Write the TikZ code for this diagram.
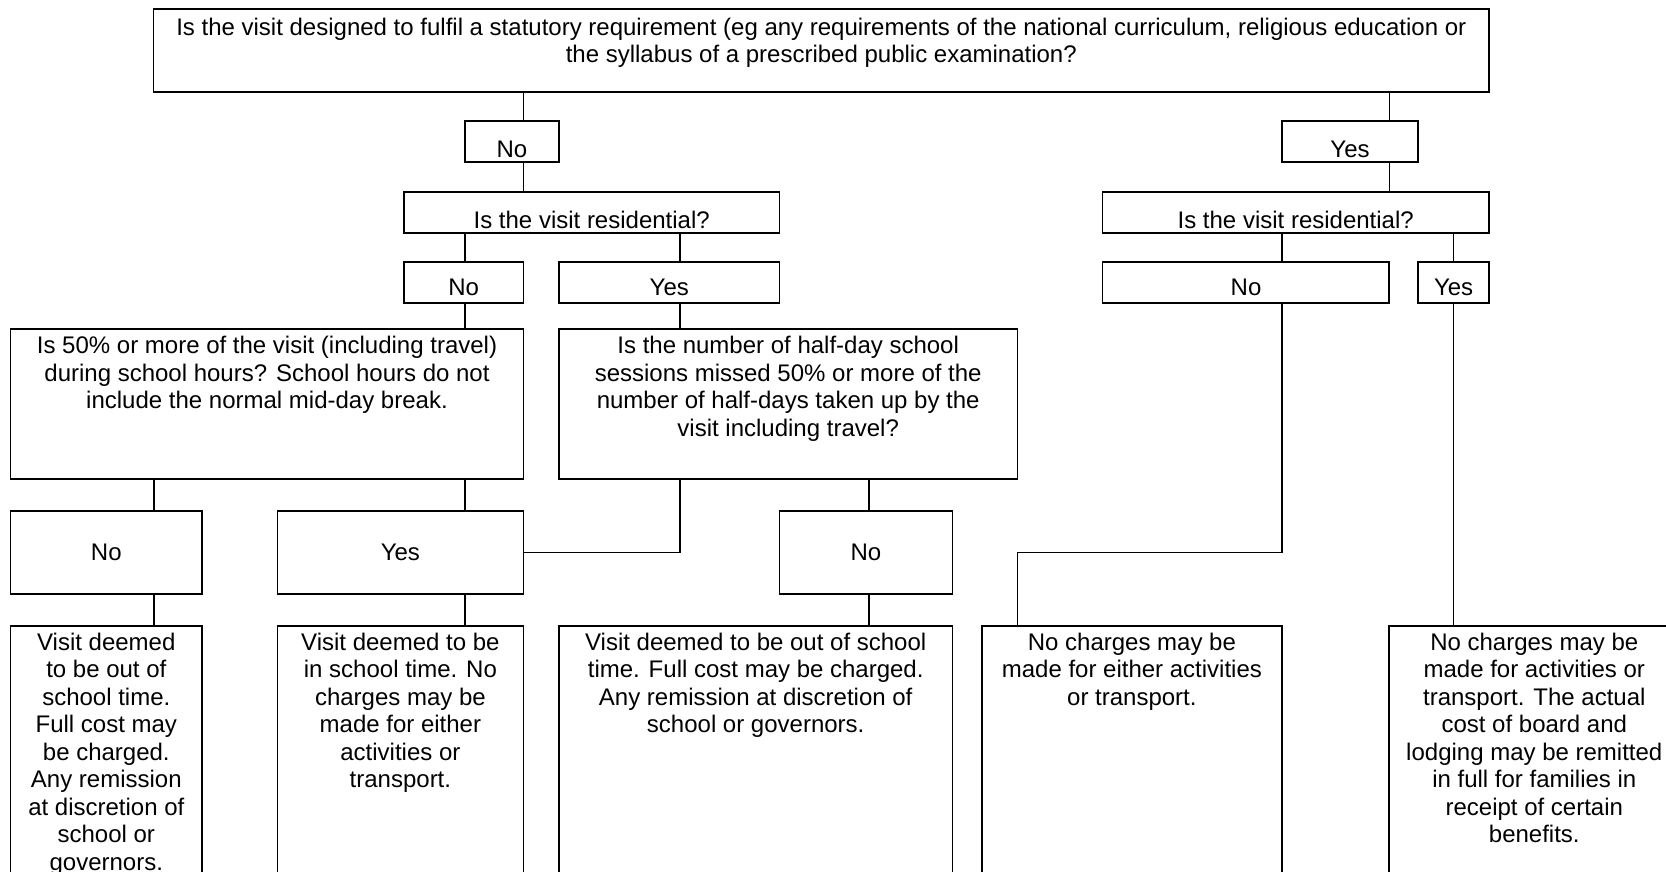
\documentclass[tikz,border=0pt]{standalone}
\usepackage{fontspec}
\setmainfont{Liberation Sans}
\usetikzlibrary{fit}
\begin{document}
\begin{tikzpicture}[x=0.5pt,y=-0.5pt]
		\tikzset{box/.style = {draw, line width=0.85pt, inner sep=0pt},
			txt/.style = {anchor=north, inner sep=0pt, align=center, font=\fontsize{12}{13.75}\selectfont},
			link/.style = {line width=0.65pt}}

		\useasboundingbox (0,0) rectangle (1666,872);
		\clip (0,0) rectangle (1666,872);

		%boxes
		\node[box, fit={(153.6,9) (1489,91.7)}] (Stat) {};
		\node[box, fit={(465,120.7) (559,162)}] (No_1) {};
		\node[box, fit={(1282,120.7) (1418,162)}] (Yes_1) {};
		\node[box, fit={(403.8,192) (779.5,232.7)}] (Res_1) {};
		\node[box, fit={(1102.4,192) (1489,232.7)}] (Res_2) {};
		\node[box, fit={(403.8,261.7) (523.4,302.7)}] (No_2) {};
		\node[box, fit={(559,261.7) (779.5,302.7)}] (Yes_2) {};
		\node[box, fit={(1102.4,261.7) (1389.3,302.7)}] (No_3) {};
		\node[box, fit={(1418,261.7) (1489,302.7)}] (Yes_3) {};
		\node[box, fit={(10.6,328.7) (523.4,479)}] (Q_1) {};
		\node[box, fit={(559,328.7) (1017.4,479)}] (Q_2) {};
		\node[box, fit={(10.6,510.7) (201.9,594)}] (No_4) {};
		\node[box, fit={(277.4,510.7) (523.4,594)}] (Yes_4) {};
		\node[box, fit={(779.5,510.7) (952.5,594)}] (No_5) {};
		\node[box, fit={(10.6,625.7) (201.9,900)}] (End_1) {};
		\node[box, fit={(277.4,625.7) (523.4,900)}] (End_2) {};
		\node[box, fit={(559,625.7) (952.5,900)}] (End_3) {};
		\node[box, fit={(981.8,625.7) (1282,900)}] (End_4) {};
		\node[box, fit={(1388.7,625.7) (1680,900)}] (End_5) {};

		%texts
		\node[txt] (Stat_t) at (821.3,17.7) {Is the visit designed to fulfil a statutory requirement (eg any requirements of the national curriculum, religious education or\\the syllabus of a prescribed public examination?};
		\node[txt] (No_1_t) at (512,141) {No};
		\node[txt] (Yes_1_t) at (1350,141) {Yes};
		\node[txt] (Res_1_t) at (591.7,211) {Is the visit residential?};
		\node[txt] (Res_2_t) at (1295.7,211) {Is the visit residential?};
		\node[txt] (No_2_t) at (463.6,279) {No};
		\node[txt] (Yes_2_t) at (669.3,279) {Yes};
		\node[txt] (No_3_t) at (1246,279) {No};
		\node[txt] (Yes_3_t) at (1453.6,279) {Yes};
		\node[txt] (Q_1_t) at (267,336) {Is 50\% or more of the visit (including travel)\\during school hours? School hours do not\\include the normal mid-day break.};
		\node[txt] (Q_2_t) at (788.2,336) {Is the number of half-day school\\sessions missed 50\% or more of the\\number of half-days taken up by the\\visit including travel?};
		\node[txt] (No_4_t) at (106.3,544) {No};
		\node[txt] (Yes_4_t) at (400.4,544) {Yes};
		\node[txt] (No_5_t) at (866,544) {No};
		\node[txt] (End_1_t) at (106.3,632.7) {Visit deemed\\to be out of\\school time.\\Full cost may\\be charged.\\Any remission\\at discretion of\\school or\\governors.};
		\node[txt] (End_2_t) at (400.4,632.7) {Visit deemed to be\\in school time. No\\charges may be\\made for either\\activities or\\transport.};
		\node[txt] (End_3_t) at (755.7,632.7) {Visit deemed to be out of school\\time. Full cost may be charged.\\Any remission at discretion of\\school or governors.};
		\node[txt] (End_4_t) at (1131.9,632.7) {No charges may be\\made for either activities\\or transport.};
		\node[txt] (End_5_t) at (1534.3,632.7) {No charges may be\\made for activities or\\transport. The actual\\cost of board and\\lodging may be remitted\\in full for families in\\receipt of certain\\benefits.};

		%lines
		\draw[link] (Stat.south -| 523.4,0) -- (No_1.north -| 523.4,0);
		\draw[link] (Stat.south -| 1389.3,0) -- (Yes_1.north -| 1389.3,0);
		\draw[link] (No_1.south -| 523.4,0) -- (Res_1.north -| 523.4,0);
		\draw[link] (Yes_1.south -| 1389.3,0) -- (Res_2.north -| 1389.3,0);
		\draw[link] (Res_1.south -| 465,0) -- (No_2.north -| 465,0);
		\draw[link] (Res_1.south -| 680,0) -- (Yes_2.north -| 680,0);
		\draw[link] (Res_2.south -| 1282,0) -- (No_3.north -| 1282,0);
		\draw[link] (Res_2.south -| 1453.6,0) -- (Yes_3.north -| 1453.6,0);
		\draw[link] (No_2.south -| 465,0) -- (Q_1.north -| 465,0);
		\draw[link] (Yes_2.south -| 680,0) -- (Q_2.north -| 680,0);
		\draw[link] (Q_1.south -| 154,0) -- (No_4.north -| 154,0);
		\draw[link] (Q_1.south -| 465,0) -- (Yes_4.north -| 465,0);
		\draw[link] (Q_2.south -| 680,0) |- (Yes_4.east);
		\draw[link] (Q_2.south -| 869,0) -- (No_5.north -| 869,0);
		\draw[link] (No_4.south -| 154,0) -- (End_1.north -| 154,0);
		\draw[link] (Yes_4.south -| 465,0) -- (End_2.north -| 465,0);
		\draw[link] (No_5.south -| 869,0) -- (End_3.north -| 869,0);
		\draw[link] (No_3.south -| 1282,0) -- ++(0,249) -| (End_4.north -| 1017.4,0);
		\draw[link] (Yes_3.south -| 1453.6,0) -- (End_5.north -| 1453.6,0);

	\end{tikzpicture}
\end{document}
